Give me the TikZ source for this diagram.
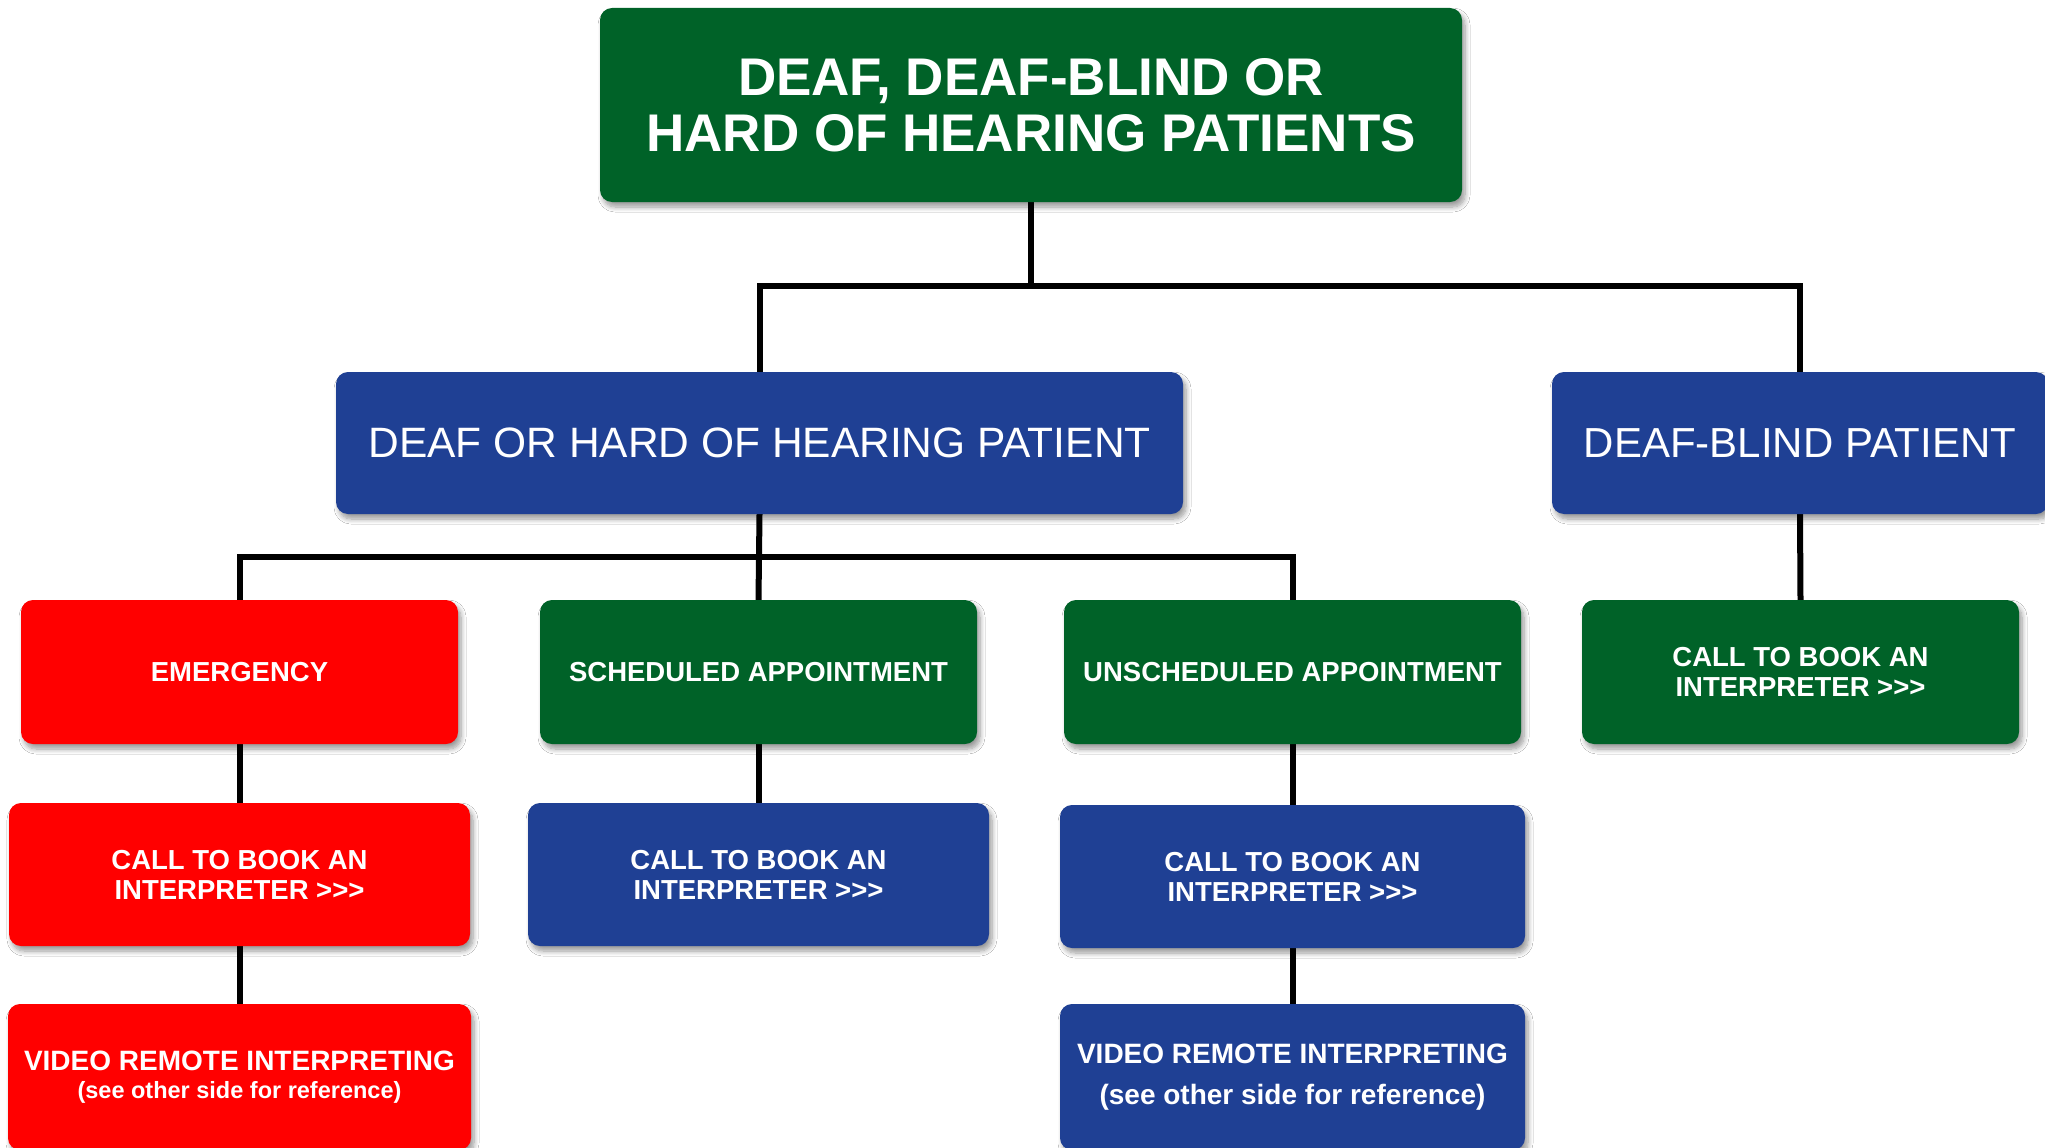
\documentclass[tikz,border=0pt]{standalone}
\usepackage{fontspec}
\setmainfont{Liberation Sans}[Ligatures=TeXOff]
\usetikzlibrary{shadows.blur,backgrounds}
\definecolor{dgreen}{RGB}{0,98,40}
\definecolor{dblue}{RGB}{31,64,148}
\definecolor{dred}{RGB}{255,0,0}
\tikzset{
  box/.style={rectangle, rounded corners=12pt, text=white, align=center, inner sep=0pt,
    blur shadow={shadow xshift=3pt, shadow yshift=-5pt, shadow blur radius=5pt, shadow blur steps=8, shadow opacity=40}},
  gbox/.style={box, fill=dgreen},
  bbox/.style={box, fill=dblue},
  rbox/.style={box, fill=dred},
  small/.style={font=\bfseries\fontsize{27.5}{30}\selectfont},
  conn/.style={draw=black, line width=6pt}
}
\begin{document}
\begin{tikzpicture}[x=1pt,y=-1pt]
\useasboundingbox (0,0) rectangle (2045,1148);
\clip (0,0) rectangle (2045,1148);
\node[gbox, minimum width=862pt, minimum height=194pt, font=\bfseries\fontsize{53}{56}\selectfont] (top) at (1031,105) {DEAF, DEAF-BLIND OR\\HARD OF HEARING PATIENTS};
\node[bbox, minimum width=847pt, minimum height=142pt, font=\fontsize{42.5}{46}\selectfont] (b1) at (759.5,443) {DEAF OR HARD OF HEARING PATIENT};
\node[bbox, minimum width=496pt, minimum height=142pt, font=\fontsize{42}{46}\selectfont] (b2) at (1800,443) {DEAF-BLIND PATIENT};
\node[rbox, small, minimum width=437pt, minimum height=144pt] (emerg) at (239.5,672) {EMERGENCY};
\node[gbox, small, minimum width=437pt, minimum height=144pt] (sched) at (758.5,672) {SCHEDULED APPOINTMENT};
\node[gbox, small, minimum width=457pt, minimum height=144pt] (unsch) at (1292.5,672) {UNSCHEDULED APPOINTMENT};
\node[gbox, small, minimum width=437pt, minimum height=144pt] (dbcall) at (1800.5,672) {CALL TO BOOK AN\\INTERPRETER >>>};
\node[rbox, small, minimum width=461pt, minimum height=143pt] (ecall) at (239.5,874.5) {CALL TO BOOK AN\\INTERPRETER >>>};
\node[bbox, small, minimum width=461pt, minimum height=143pt] (scall) at (758.5,874.5) {CALL TO BOOK AN\\INTERPRETER >>>};
\node[bbox, small, minimum width=465pt, minimum height=143pt] (ucall) at (1292.5,876.5) {CALL TO BOOK AN\\INTERPRETER >>>};
\node[rbox, minimum width=463pt, minimum height=146pt, font=\bfseries\fontsize{28}{28}\selectfont] (evri) at (239.5,1077) {VIDEO REMOTE INTERPRETING\\{\fontsize{23.5}{28}\selectfont (see other side for reference)}};
\node[bbox, minimum width=465pt, minimum height=146pt, font=\bfseries\fontsize{28}{41}\selectfont] (uvri) at (1292.5,1077) {VIDEO REMOTE INTERPRETING\\(see other side for reference)};
\begin{pgfonlayer}{background}
\fill[white] (0,0) rectangle (2045,1148);
\path (top.south) ++(0,84) coordinate (h1);
\path (b1.south) ++(0,43) coordinate (h2);
\draw[conn] (top.south) -- (h1);
\draw[conn] (b1.north) |- (h1) -| (b2.north);
\draw[conn] (b1.south) -- (sched.north);
\draw[conn] (emerg.north) |- (h2) -| (unsch.north);
\draw[conn] (b2.south) -- (dbcall.north);
\draw[conn] (emerg.south) -- (ecall.north);
\draw[conn] (ecall.south) -- (evri.north);
\draw[conn] (sched.south) -- (scall.north);
\draw[conn] (unsch.south) -- (ucall.north);
\draw[conn] (ucall.south) -- (uvri.north);
\end{pgfonlayer}
\end{tikzpicture}
\end{document}
